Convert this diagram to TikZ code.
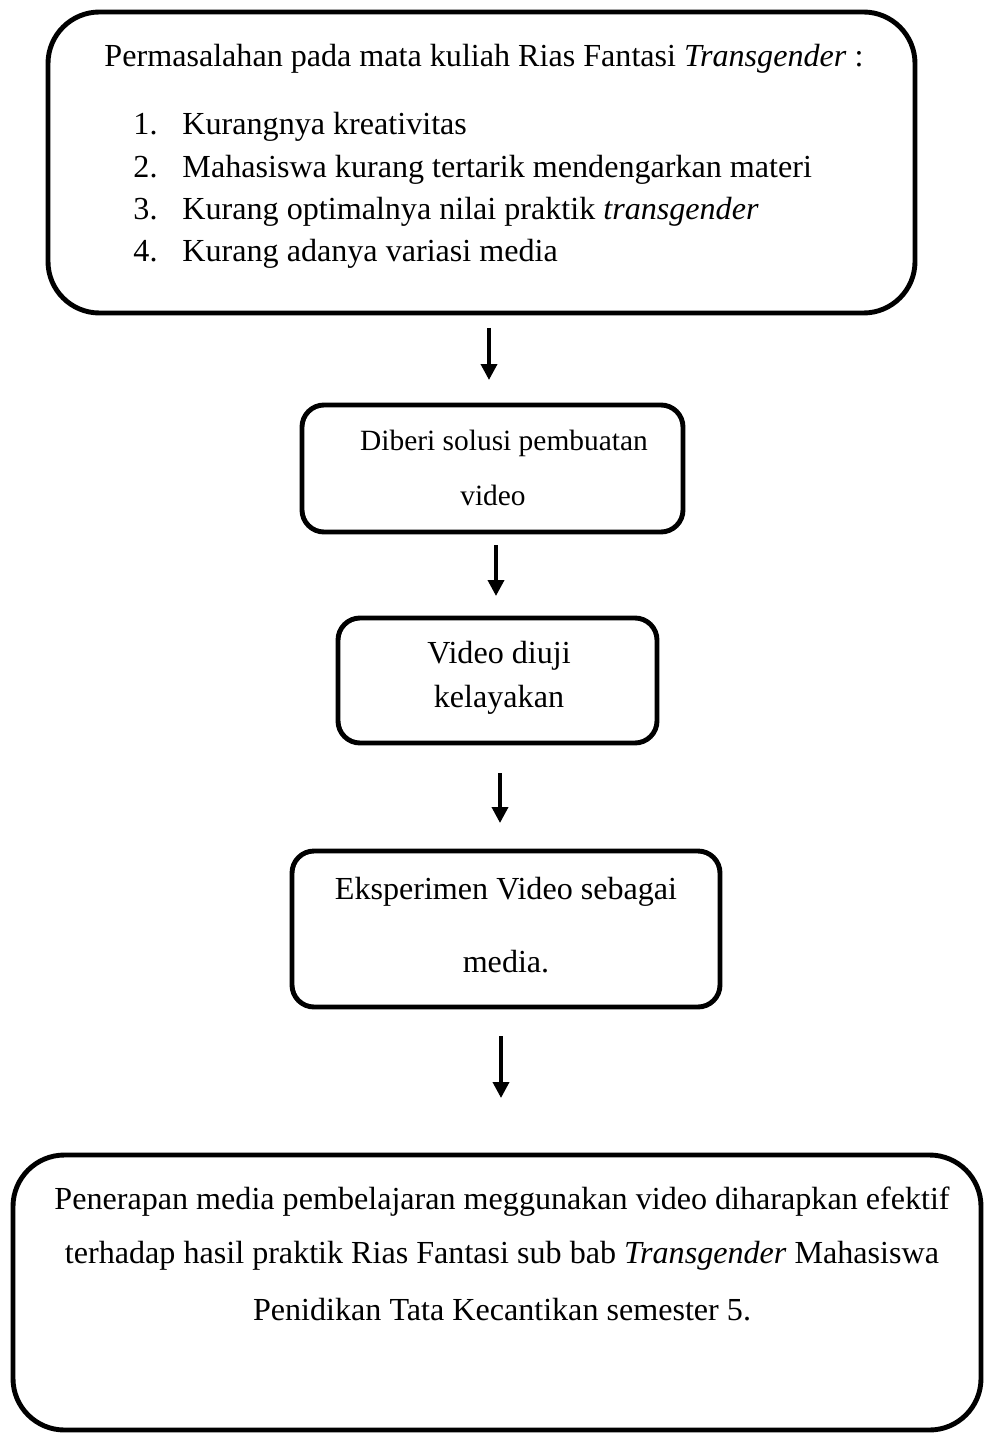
\documentclass[tikz,border=0pt]{standalone}
\usepackage{fontspec}
\setmainfont{Liberation Serif}
\usetikzlibrary{arrows.meta,positioning}
\newcommand{\px}{0.408pt}
\tikzset{
  stage/.style={
    draw=black, line width=2pt, fill=white, rounded corners=9pt,
    inner sep=0pt
  },
  bigstage/.style={stage, rounded corners=21pt},
  line/.style={anchor=base, inner sep=0pt, font=\fontsize{13.1}{15}\selectfont},
  smallline/.style={line, font=\fontsize{12}{14}\selectfont},
  flow/.style={-{Triangle[length=6.5pt,width=6.5pt]}, line width=1.5pt, draw=black}
}
\begin{document}
\begin{tikzpicture}[x=0.408pt,y=-0.408pt]
  \useasboundingbox (0,0) rectangle (986,1434);
  % boxes
  \node[bigstage, minimum width={867*\px}, minimum height={301*\px}] (masalah) at (481.5,162.5) {};
  \node[stage, minimum width={381*\px}, minimum height={127*\px}] (solusi) at (492.5,468.5) {};
  \node[stage, minimum width={319*\px}, minimum height={125*\px}] (uji) at (497.5,680.5) {};
  \node[stage, minimum width={428*\px}, minimum height={156*\px}] (eksperimen) at (506,929) {};
  \node[bigstage, minimum width={968*\px}, minimum height={275*\px}] (hasil) at (497,1292.5) {};
  % texts
  \node[line, anchor=base west] (judul) at (104,67) {Permasalahan pada mata kuliah Rias Fantasi \textit{Transgender} :};
  \foreach \n/\y/\t in {1/135/Kurangnya kreativitas,
                         2/178/Mahasiswa kurang tertarik mendengarkan materi,
                         3/220/Kurang optimalnya nilai praktik \textit{transgender},
                         4/262/Kurang adanya variasi media}{
    \node[line, anchor=base west] (no\n) at (133,\y) {\n.};
    \node[line, anchor=base west] (item\n) at (182,\y) {\t};
  }
  \node[smallline] (solusiA) at (504,450) {Diberi solusi pembuatan};
  \node[smallline] (solusiB) at (493,505) {video};
  \node[line] (ujiA) at (499,663) {Video diuji};
  \node[line] (ujiB) at (499,707) {kelayakan};
  \node[line] (eksA) at (506,899) {Eksperimen Video sebagai};
  \node[line] (eksB) at (506,972) {media.};
  \node[line] (hasilA) at (502,1209) {Penerapan media pembelajaran meggunakan video diharapkan efektif};
  \node[line] (hasilB) at (502,1263) {terhadap hasil praktik Rias Fantasi sub bab \textit{Transgender} Mahasiswa};
  \node[line] (hasilC) at (502,1320) {Penidikan Tata Kecantikan semester 5.};
  % arrows
  \coordinate (p1) at (489,328);  \coordinate (q1) at (489,380);
  \coordinate (p2) at (496,545);  \coordinate (q2) at (496,596);
  \coordinate (p3) at (500,773);  \coordinate (q3) at (500,823);
  \coordinate (p4) at (501,1036); \coordinate (q4) at (501,1098);
  \foreach \i in {1,...,4}
    \draw[flow] (p\i) -- (q\i);
\end{tikzpicture}
\end{document}
